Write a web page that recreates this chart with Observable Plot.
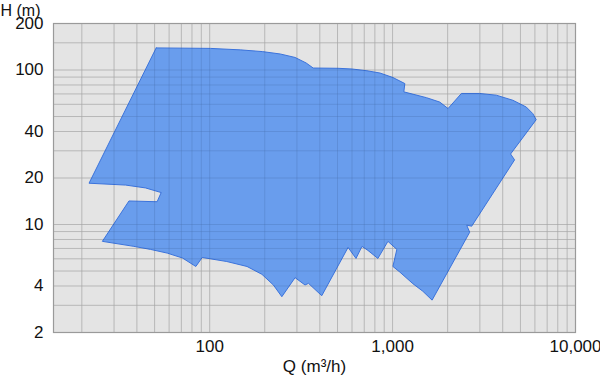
<!DOCTYPE html>
<html>
<head>
<meta charset="utf-8">
<script src="https://cdn.jsdelivr.net/npm/d3@7"></script>
<script src="https://cdn.jsdelivr.net/npm/@observablehq/plot@0.6"></script>
<style>
  html, body { margin: 0; padding: 0; background: #fff; }
  #chart svg { display: block; }
</style>
</head>
<body>
<div id="chart"></div>
<script>
// Tick labels
const xTicks = [100, 1000, 10000];
const yTicks = [2, 4, 10, 20, 40, 100, 200];
// Grid lines
const xGrid = [20, 30, 40, 50, 60, 70, 80, 90, 100, 200, 300, 400, 500, 600, 700, 800, 900, 1000, 2000, 3000, 4000, 5000, 6000, 7000, 8000, 9000];
const yGrid = [3, 4, 5, 6, 7, 8, 9, 10, 20, 30, 40, 50, 60, 70, 80, 90, 100, 150];
// Operating range envelope (Q in m3/h, H in m), clockwise from top-left
const flowQ = [51, 101, 147, 194, 243, 293, 337, 368, 503, 600, 724, 853, 1004, 1167, 1152, 1532, 1811, 2010,
  2378, 2992, 3690, 4546, 5379, 5843, 6098,
  4416, 4645, 2706, 2542, 2639, 1644, 1463, 1291, 1096, 1004, 1055, 943, 831, 733, 680, 631, 571, 410, 347, 332, 293, 248,
  223, 193, 160, 124, 91, 84, 71, 58.6, 47.5, 38.5, 25.9, 36.2, 51.6, 54.3, 44.6, 34.7, 21.9, 51];
const headH = [139, 138, 135, 131.6, 127, 120.6, 111, 103, 102.6, 101.5, 98.9, 95.6, 89.4, 81.7, 72.2, 66.2, 62, 56.3,
  70.5, 70.5, 68.7, 63.7, 57.6, 52.2, 47.7,
  28.6, 26.2, 9.75, 9.9, 8.91, 3.24, 3.7, 4.14, 4.92, 5.35, 6.9, 7.78, 6.03, 6.8, 7.22, 6.03, 7.11, 3.46, 4.16, 4.06, 4.53, 3.41,
  4.06, 4.76, 5.35, 5.76, 6.12, 5.35, 6.07, 6.53, 6.9, 7.22, 7.78, 14.2, 14.04, 16.1, 17.25, 18.0, 18.5, 139];
const xLabel = "Q (m³/h)";
const yLabel = "H (m)";

const envelope = flowQ.map((q, i) => ({q, h: headH[i]}));

const chart = Plot.plot({
  width: 600,
  height: 376,
  marginLeft: 53,
  marginRight: 25,
  marginTop: 23,
  marginBottom: 44,
  style: {fontFamily: "'Liberation Sans', Arial, Helvetica, sans-serif", fontSize: "17px", color: "#111", background: "#fff"},
  x: {type: "log", domain: [14, 10000], ticks: xTicks, tickFormat: d3.format(","), tickSize: 0, tickPadding: 7, label: null},
  y: {type: "log", domain: [2, 200], ticks: yTicks, tickFormat: d => String(d), tickSize: 0, tickPadding: 10, label: null},
  marks: [
    Plot.frame({fill: "#e4e4e4"}),
    Plot.ruleX(xGrid, {stroke: "#c6c6c6", strokeWidth: 1}),
    Plot.ruleY(yGrid, {stroke: "#c6c6c6", strokeWidth: 1}),
    Plot.line(envelope, {x: "q", y: "h", fill: "#5490ee", fillOpacity: 0.85, stroke: "#3b73dc", strokeWidth: 1, curve: "linear"}),
    Plot.ruleX(xGrid, {stroke: "#000", strokeOpacity: 0.07, strokeWidth: 1}),
    Plot.ruleY(yGrid, {stroke: "#000", strokeOpacity: 0.07, strokeWidth: 1}),
    Plot.frame({stroke: "#9a9a9a", strokeWidth: 1.2}),
    Plot.text([yLabel], {frameAnchor: "top-left", dx: -53, dy: -19, textAnchor: "start", lineAnchor: "top", fontSize: 16, fill: "#111"}),
    Plot.text([xLabel], {frameAnchor: "bottom", dx: 0, dy: 34, lineAnchor: "middle", fontSize: 17, fill: "#111"})
  ]
});
document.getElementById("chart").appendChild(chart);
</script>
</body>
</html>
